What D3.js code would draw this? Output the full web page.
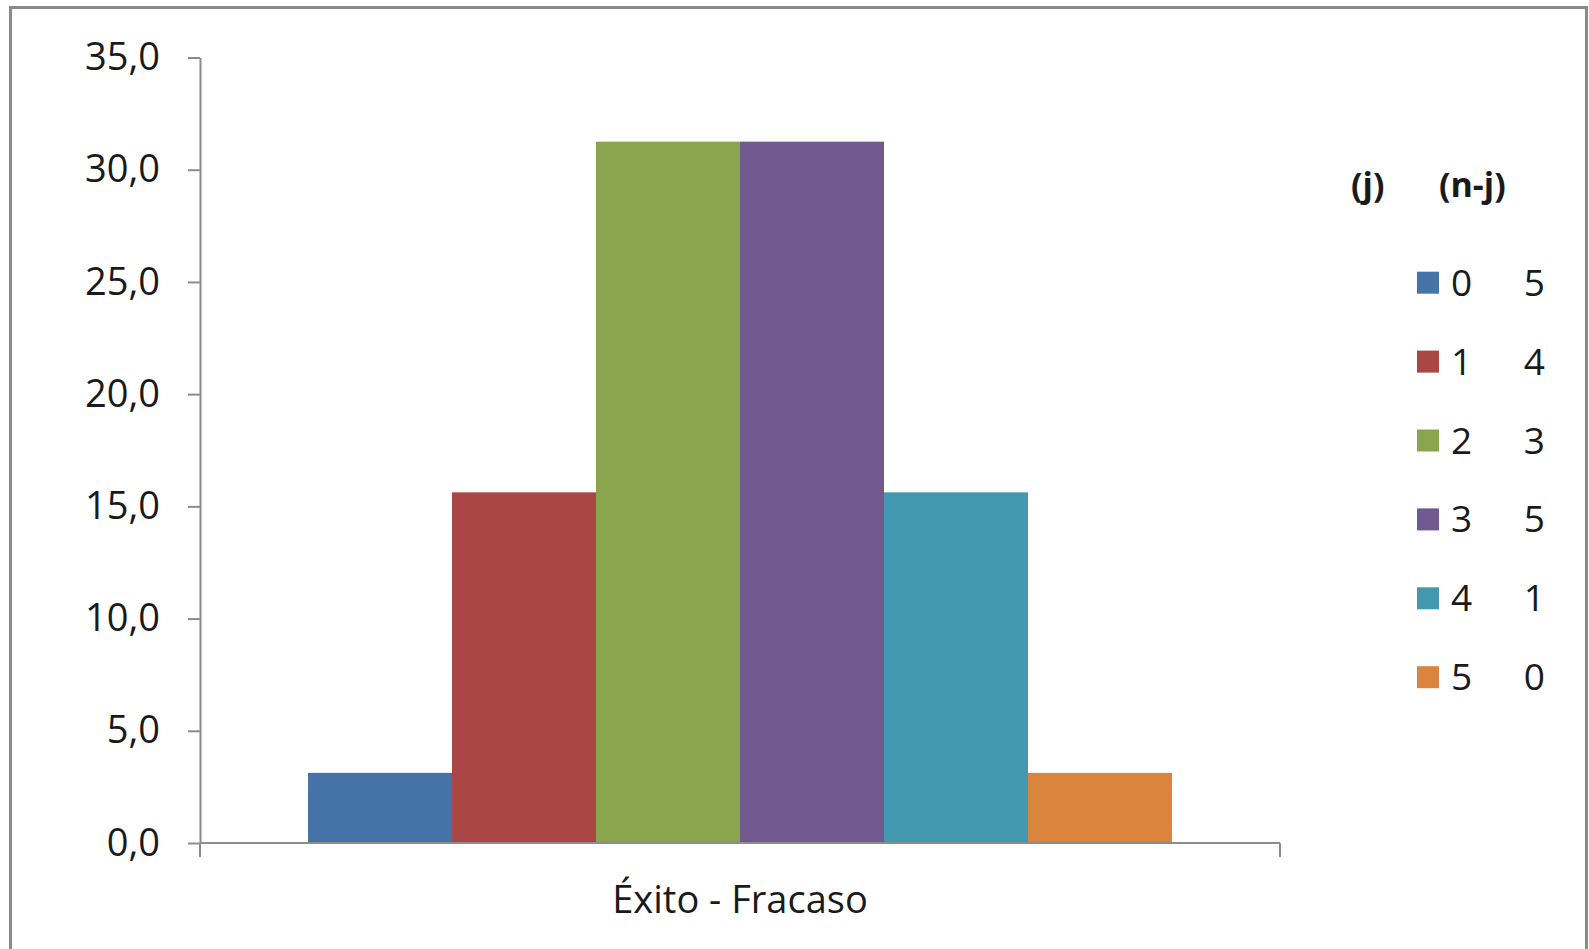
<!DOCTYPE html>
<html>
<head>
<meta charset="utf-8">
<script src="https://cdn.jsdelivr.net/npm/d3@7"></script>
<style>
  body { margin: 0; background: #fff; }
  text { font-family: "Open Sans", sans-serif; fill: #1a1a1a; }
</style>
</head>
<body>
<svg width="1589" height="949"></svg>
<script>
// data
var successes = ["0", "1", "2", "3", "4", "5"];       // (j)
var failures = ["5", "4", "3", "5", "1", "0"];        // (n-j), as labelled
var values = [3.125, 15.625, 31.25, 31.25, 15.625, 3.125];
var colors = ["#4572A7", "#AA4643", "#89A54E", "#71588F", "#4198AF", "#DB843D"];
var category = "Éxito - Fracaso";
var yTicks = [0, 5, 10, 15, 20, 25, 30, 35];

var svg = d3.select("svg");

// outer frame
svg.append("rect")
  .attr("x", 10.5).attr("y", 7.5)
  .attr("width", 1576).attr("height", 960)
  .attr("fill", "none")
  .attr("stroke", "#8a8a8a")
  .attr("stroke-width", 3);

var plot = { left: 200, right: 1280, top: 57.5, bottom: 843 };

var y = d3.scaleLinear().domain([0, 35]).range([plot.bottom, plot.top]);

// one category, bars side by side with 150% gap
var x0 = d3.scaleBand().domain([category]).range([plot.left, plot.right]).paddingInner(0).paddingOuter(0);
var catW = x0.bandwidth();
var barW = catW / (values.length + 1.5);
var x1 = d3.scaleBand().domain(successes)
  .range([x0(category) + barW * 0.75, x0(category) + catW - barW * 0.75]);

// bars
svg.append("g").selectAll("rect")
  .data(values)
  .enter().append("rect")
  .attr("x", function(d, i) { return x1(successes[i]); })
  .attr("width", x1.bandwidth())
  .attr("y", function(d) { return y(d); })
  .attr("height", function(d) { return y(0) - y(d); })
  .attr("fill", function(d, i) { return colors[i]; });

// y axis
var fmt = function(v) { return d3.format(".1f")(v).replace(".", ","); };
var yAxis = svg.append("g")
  .attr("transform", "translate(" + plot.left + ",0)")
  .call(d3.axisLeft(y).tickValues(yTicks).tickSize(12).tickSizeOuter(0).tickPadding(28).tickFormat(fmt));
yAxis.selectAll("line").attr("stroke", "#8c8c8c").attr("stroke-width", 2);
yAxis.select(".domain").attr("stroke", "#8c8c8c").attr("stroke-width", 2);
yAxis.selectAll("text").style("font-size", "38px").attr("fill", "#1a1a1a");

// x axis
var xAxisG = svg.append("g").attr("transform", "translate(0," + plot.bottom + ")");
xAxisG.append("line")
  .attr("x1", plot.left).attr("x2", plot.right)
  .attr("stroke", "#8c8c8c").attr("stroke-width", 2);
xAxisG.selectAll("line.tick")
  .data([plot.left, plot.right])
  .enter().append("line")
  .attr("class", "tick")
  .attr("x1", function(d) { return d; }).attr("x2", function(d) { return d; })
  .attr("y1", 0).attr("y2", 14)
  .attr("stroke", "#8c8c8c").attr("stroke-width", 2);
xAxisG.append("text")
  .attr("x", x0(category) + catW / 2)
  .attr("y", 70)
  .attr("text-anchor", "middle")
  .style("font-size", "38px")
  .text(category);

// legend
var legend = svg.append("g");
legend.append("text").attr("x", 1351).attr("y", 197)
  .style("font-size", "34px").style("font-weight", "bold").text("(j)");
legend.append("text").attr("x", 1439).attr("y", 197)
  .style("font-size", "34px").style("font-weight", "bold").text("(n-j)");

var rows = legend.selectAll("g.row")
  .data(successes)
  .enter().append("g")
  .attr("class", "row")
  .attr("transform", function(d, i) { return "translate(0," + (282.7 + i * 78.9) + ")"; });
rows.append("rect")
  .attr("x", 1417).attr("y", -11)
  .attr("width", 22).attr("height", 22)
  .attr("fill", function(d, i) { return colors[i]; });
rows.append("text")
  .attr("x", 1451).attr("y", 13)
  .style("font-size", "37px")
  .text(function(d) { return d; });
rows.append("text")
  .attr("x", 1545).attr("y", 13)
  .attr("text-anchor", "end")
  .style("font-size", "37px")
  .text(function(d, i) { return failures[i]; });
</script>
</body>
</html>
